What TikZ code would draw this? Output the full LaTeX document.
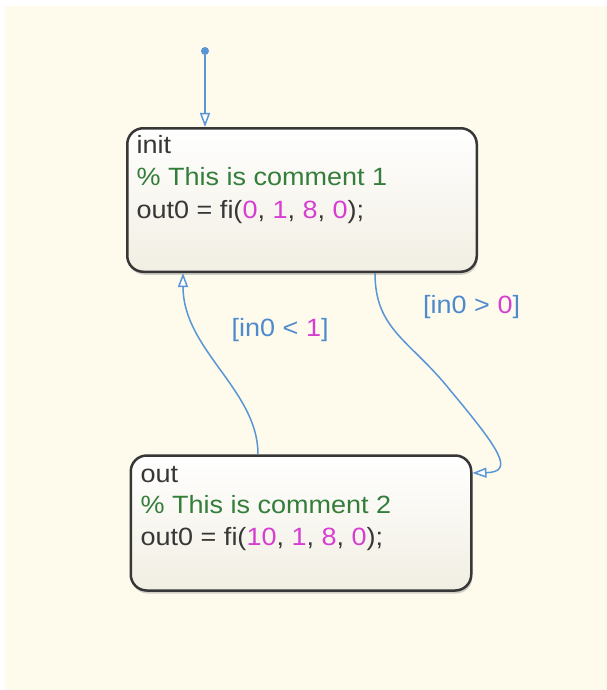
\documentclass[tikz,border=0pt]{standalone}
\usepackage{fontspec}
\setmainfont[FakeStretch=1.08]{Liberation Sans}
\usetikzlibrary{arrows.meta, shadows, positioning}
\definecolor{chartbg}{RGB}{254,250,236}
\definecolor{statebot}{RGB}{241,238,226}
\definecolor{transblue}{RGB}{88,150,214}
\definecolor{labelblue}{RGB}{78,138,204}
\definecolor{numpink}{RGB}{214,62,210}
\definecolor{commentgreen}{RGB}{52,126,58}
\definecolor{codegray}{RGB}{55,55,55}
\newcommand{\pnum}[1]{\textcolor{numpink}{#1}}

\begin{document}
\begin{tikzpicture}[
			x=1pt, y=-1pt,
			state/.style={
					draw=codegray,
					line width=2.5pt,
					rounded corners=16pt,
					top color=white,
					bottom color=statebot,
					drop shadow={shadow xshift=1pt, shadow yshift=-3pt, opacity=0.35},
					inner sep=0pt
				},
			code/.style={
					anchor=base west,
					inner sep=0pt,
					text=codegray,
					font=\fontsize{25}{30}\selectfont
				},
			trans/.style={
					draw=transblue,
					line width=1.5pt,
					-{Triangle[length=14pt, width=10pt, fill=white]}
				},
			guard/.style={
					anchor=base west,
					inner sep=0pt,
					text=labelblue,
					font=\fontsize{25}{30}\selectfont
				}
		]
		% chart area
		\fill[white] (0,0) rectangle (607,690);
		\fill[chartbg] (5,6) rectangle (607,690);

		\node[state, minimum width=349.5pt, minimum height=143.5pt] (init) at (302, 200) {};
		\node[state, minimum width=340.5pt, minimum height=135pt] (out) at (301, 523) {};

		\node[code] (initname) at (136.5, 153) {init};
		\node[code, text=commentgreen] (initcomment) at ([yshift=-32.5pt]initname.base west) {\% This is comment 1};
		\node[code] (initcode) at ([yshift=-32.5pt]initcomment.base west) {out0 = fi(\pnum{0}, \pnum{1}, \pnum{8}, \pnum{0});};

		\node[code] (outname) at (140.5, 482) {out};
		\node[code, text=commentgreen] (outcomment) at ([yshift=-31.5pt]outname.base west) {\% This is comment 2};
		\node[code] (outcode) at ([yshift=-31.5pt]outcomment.base west) {out0 = fi(\pnum{10}, \pnum{1}, \pnum{8}, \pnum{0});};

		% default transition
		\node[circle, fill=transblue, inner sep=0pt, minimum size=8pt] (start) at (205, 51) {};
		\draw[trans] (start) -- (init.north -| start);

		\draw[trans] ([xshift=-43pt]out.north)
		.. controls (258, 390) and (183, 350) .. ([xshift=-119pt]init.south);
		\draw[trans] ([xshift=73pt]init.south)
		.. controls (375, 330) and (410, 340) .. (450, 390)
		.. controls (500, 450) and (515, 472) .. ([yshift=50pt]out.east);

		\node[guard] (guardlow) at (231.5, 336.5) {[in0 < \pnum{1}]};
		\node[guard] (guardhigh) at (423, 313) {[in0 > \pnum{0}]};
	\end{tikzpicture}
\end{document}
